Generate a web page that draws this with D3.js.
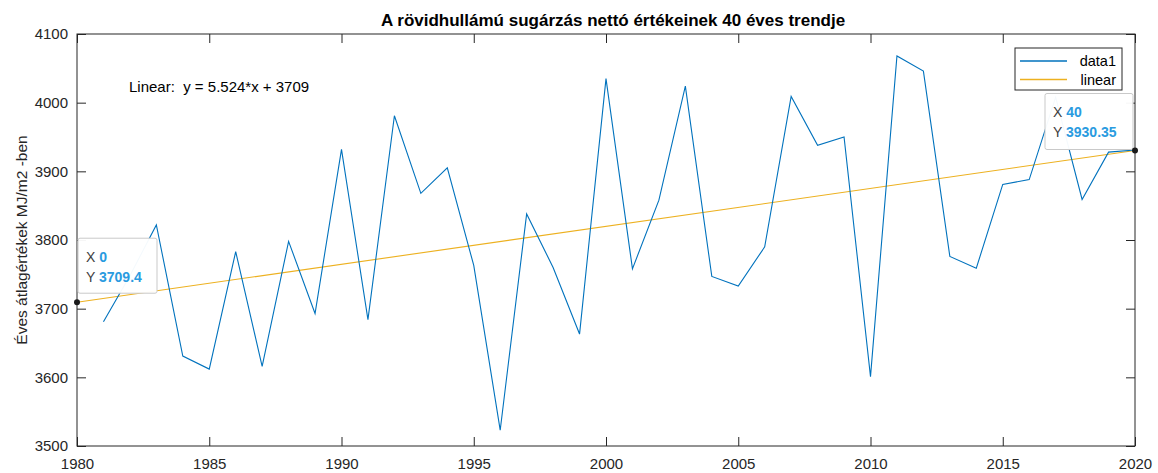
<!DOCTYPE html>
<html>
<head>
<meta charset="utf-8">
<script src="https://cdn.jsdelivr.net/npm/d3@7"></script>
<style>
  html, body { margin: 0; padding: 0; background: #fff; }
  svg { display: block; font-family: "Liberation Sans", Arial, sans-serif; }
</style>
</head>
<body>
<svg id="chart" width="1158" height="473"></svg>
<script>
// Annual net shortwave radiation, yearly means (MJ/m2)
const years = d3.range(1981, 2021);
const values = [
  3681, 3748, 3822, 3631, 3612, 3783, 3616, 3798, 3693, 3932,
  3684, 3981, 3868, 3905, 3763, 3523, 3838, 3760, 3663, 4035,
  3758, 3858, 4024, 3747, 3733, 3790, 4009, 3938, 3950, 3601,
  4068, 4046, 3776, 3759, 3881, 3888, 4008, 3859, 3928, 3931
];

// Linear fit: y = slope * x + intercept, x counted in years from 1980
const fitSlope = 5.52375;
const fitIntercept = 3709.4;
const fitX = [0, 40];

const xTicks = [1980, 1985, 1990, 1995, 2000, 2005, 2010, 2015, 2020];
const yTicks = [3500, 3600, 3700, 3800, 3900, 4000, 4100];

const titleText = "A rövidhullámú sugárzás nettó értékeinek 40 éves trendje";
const yLabelText = "Éves átlagértékek MJ/m2 -ben";
const fitLabelText = "Linear:  y = 5.524*x + 3709";
const legendNames = ["data1", "linear"];

const W = 1158, H = 473;
const m = { left: 77, right: 23, top: 34, bottom: 27 };
const axisColor = "#262626";
const dataColor = "#0072BD";
const fitColor = "#EDB120";

const svg = d3.select("#chart");

const x = d3.scaleLinear().domain([1980, 2020]).range([m.left, W - m.right]);
const y = d3.scaleLinear().domain([3500, 4100]).range([H - m.bottom, m.top]);

const x0 = x.range()[0], x1 = x.range()[1];
const y0 = y.range()[0], y1 = y.range()[1];

// Axes with inward ticks (box style)
const tickLen = 9;
const styleAxis = g => {
  g.selectAll(".domain").remove();
  g.selectAll(".tick line").attr("stroke", axisColor).attr("stroke-width", 1);
  g.selectAll(".tick text").attr("fill", axisColor).style("font-size", "15px")
    .style("font-family", "'Liberation Sans', Arial, sans-serif");
};

svg.append("g").attr("transform", `translate(0,${y0})`)
  .call(d3.axisBottom(x).tickValues(xTicks).tickFormat(d3.format("d"))
    .tickSizeInner(-tickLen).tickSizeOuter(0).tickPadding(12))
  .call(styleAxis);

svg.append("g").attr("transform", `translate(0,${y1})`)
  .call(d3.axisTop(x).tickValues(xTicks).tickFormat("")
    .tickSizeInner(-tickLen).tickSizeOuter(0))
  .call(styleAxis);

svg.append("g").attr("transform", `translate(${x0},0)`)
  .call(d3.axisLeft(y).tickValues(yTicks).tickFormat(d3.format("d"))
    .tickSizeInner(-tickLen).tickSizeOuter(0).tickPadding(9))
  .call(styleAxis);

svg.append("g").attr("transform", `translate(${x1},0)`)
  .call(d3.axisRight(y).tickValues(yTicks).tickFormat("")
    .tickSizeInner(-tickLen).tickSizeOuter(0))
  .call(styleAxis);

// Plot box
svg.append("rect")
  .attr("x", x0).attr("y", y1)
  .attr("width", x1 - x0).attr("height", y0 - y1)
  .attr("fill", "none").attr("stroke", axisColor).attr("stroke-width", 1);

// Trend line
const fitPts = fitX.map(t => ({ yr: 1980 + t, v: fitIntercept + fitSlope * t }));
svg.append("path")
  .datum(fitPts)
  .attr("fill", "none").attr("stroke", fitColor).attr("stroke-width", 1.1)
  .attr("d", d3.line().x(d => x(d.yr)).y(d => y(d.v)));

// Data series
const series = years.map((yr, i) => ({ yr, v: values[i] }));
svg.append("path")
  .datum(series)
  .attr("fill", "none").attr("stroke", dataColor).attr("stroke-width", 1.1)
  .attr("stroke-linejoin", "miter")
  .attr("d", d3.line().x(d => x(d.yr)).y(d => y(d.v)));

// Title
svg.append("text")
  .attr("x", (x0 + x1) / 2 + 7).attr("y", 26)
  .attr("text-anchor", "middle")
  .style("font-size", "17px").style("font-weight", "bold").attr("fill", "#000")
  .text(titleText);

// Y axis label
svg.append("text")
  .attr("transform", `translate(27,${(y0 + y1) / 2}) rotate(-90)`)
  .attr("text-anchor", "middle")
  .style("font-size", "15.5px").attr("fill", axisColor)
  .text(yLabelText);

// Fit equation
svg.append("text")
  .attr("x", 129).attr("y", 92)
  .style("font-size", "15px").style("white-space", "pre").attr("fill", "#000")
  .text(fitLabelText);

// Legend
const lg = svg.append("g");
lg.append("rect")
  .attr("x", 1015).attr("y", 48).attr("width", 107).attr("height", 42)
  .attr("fill", "#fff").attr("stroke", axisColor).attr("stroke-width", 1);
const legendColors = [dataColor, fitColor];
legendNames.forEach((name, i) => {
  const cy = 61 + i * 18.5;
  lg.append("line")
    .attr("x1", 1020).attr("x2", 1067).attr("y1", cy).attr("y2", cy)
    .attr("stroke", legendColors[i]).attr("stroke-width", 1.3);
  lg.append("text")
    .attr("x", 1116).attr("y", cy + 5)
    .attr("text-anchor", "end")
    .style("font-size", "14.5px").attr("fill", "#000")
    .text(name);
});

// Data tips on the trend line ends
const tipFmt = v => String(Math.round(v * 100) / 100);
const tips = [
  { t: fitX[0], dx: 1, dy: -64, w: 79, h: 55 },
  { t: fitX[1], dx: -90, dy: -57, w: 88, h: 56 }
];
tips.forEach(tp => {
  const pv = fitIntercept + fitSlope * tp.t;
  const px = x(1980 + tp.t), py = y(pv);
  const g = svg.append("g");
  const bx = px + tp.dx, by = py + tp.dy;
  g.append("rect")
    .attr("x", bx).attr("y", by).attr("width", tp.w).attr("height", tp.h)
    .attr("rx", 2)
    .attr("fill", "#fff").attr("fill-opacity", 0.96)
    .attr("stroke", "#c9c9c9").attr("stroke-width", 1);
  const rows = [["X", String(tp.t)], ["Y", tipFmt(pv)]];
  rows.forEach((r, i) => {
    const t = g.append("text")
      .attr("x", bx + 8).attr("y", by + 24 + i * 20)
      .style("font-size", "14px");
    t.append("tspan").attr("fill", "#404040").text(r[0] + " ");
    t.append("tspan").attr("fill", "#2a9be0").style("font-weight", "bold").text(r[1]);
  });
  g.append("circle").attr("cx", px).attr("cy", py).attr("r", 3)
    .attr("fill", "#1a1a1a");
});
</script>
</body>
</html>
